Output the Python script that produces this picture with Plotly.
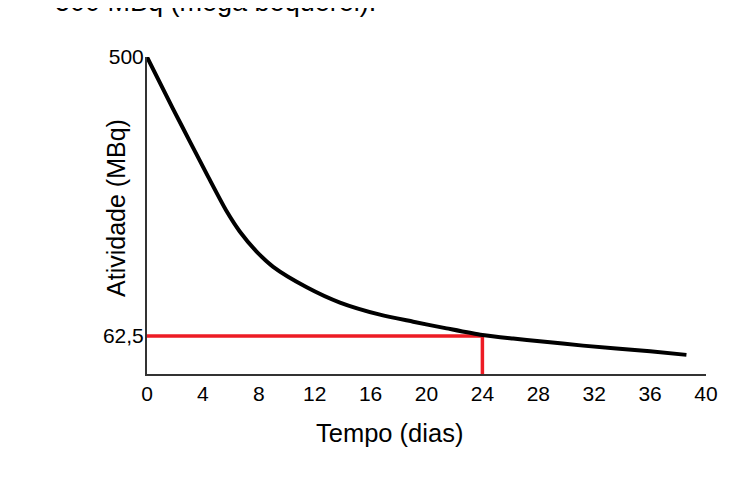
import plotly.graph_objects as go

# Decay curve (days, MBq)
tempo = [0, 1.88, 3.08, 4.38, 5.70, 6.65, 7.84, 9.03, 11.43, 13.81, 16.67, 19.05,
         21.44, 24, 26.2, 28.1, 31.2, 36.0, 38.6]
atividade = [500, 418, 367, 312, 258, 226, 195, 171, 139, 115, 96, 85,
             74.5, 64, 58.5, 54.5, 47.5, 38.5, 33]

# Reference marks
t_ref = 24
a_ref = 62.5

x_ticks = [0, 4, 8, 12, 16, 20, 24, 28, 32, 36, 40]
y_ticks = [62.5, 500]
y_tick_labels = ["62,5", "500"]

y_min = 3
y_max = 500

FONT = "Liberation Sans, Arial, sans-serif"

fig = go.Figure()

fig.add_trace(go.Scatter(
    x=[0, t_ref, t_ref], y=[a_ref, a_ref, y_min],
    mode="lines", line=dict(color="#ed1c24", width=3.5),
    hoverinfo="skip", showlegend=False, cliponaxis=False))

fig.add_trace(go.Scatter(
    x=tempo, y=atividade, mode="lines",
    line=dict(color="#000000", width=4, shape="spline", smoothing=0.7),
    showlegend=False, cliponaxis=False))

fig.update_layout(
    width=748, height=491,
    margin=dict(l=139, r=50, t=49, b=125),
    paper_bgcolor="white", plot_bgcolor="white",
    font=dict(family=FONT, size=21, color="#000000"),
    xaxis=dict(range=[0, 40], tickvals=x_ticks, showgrid=False, zeroline=False,
               showline=True, linecolor="#333333", linewidth=2, ticks="",
               ticklabelstandoff=0, tickfont=dict(size=21)),
    yaxis=dict(range=[y_min, y_max], tickvals=y_ticks, ticktext=y_tick_labels,
               showgrid=False, zeroline=False, showline=True, linecolor="#333333",
               linewidth=2, ticks="", ticklabelstandoff=-3, tickfont=dict(size=21)),
    annotations=[
        dict(text="Tempo (dias)", xref="paper", yref="paper", x=0.4347, y=-0.186,
             xanchor="center", yanchor="middle", showarrow=False,
             font=dict(size=25.5, family=FONT)),
        dict(text="Atividade (MBq)", xref="paper", yref="paper", x=-0.0555, y=0.5237,
             xanchor="center", yanchor="middle", textangle=-90, showarrow=False,
             font=dict(size=25, family=FONT)),
        dict(text="500 MBq (mega bequerel).", xref="paper", yref="paper", x=-0.168, y=1.121,
             xanchor="left", yanchor="bottom", showarrow=False,
             font=dict(size=27, family=FONT)),
    ],
)

fig.write_html("out.html")
